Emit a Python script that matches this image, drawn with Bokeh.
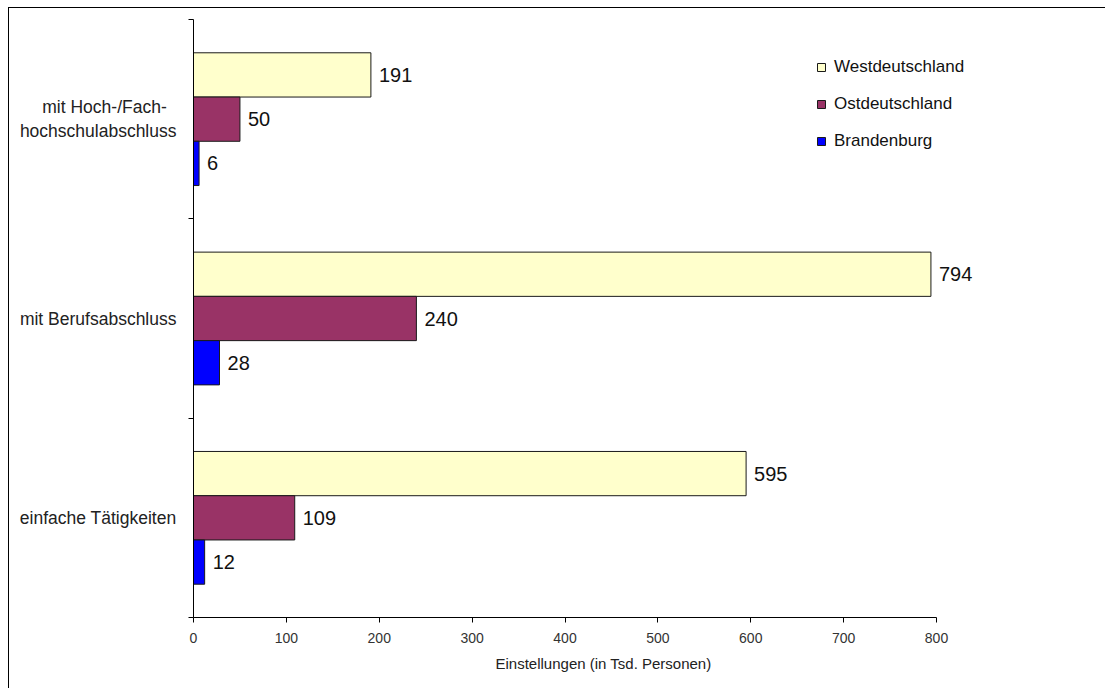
from bokeh.plotting import figure
from bokeh.models import Range1d, FixedTicker, Legend, LegendItem, ColumnDataSource, Title
from bokeh.embed import file_html
from bokeh.resources import INLINE
from bokeh.core.properties import value

# ---- data ----
categories = ["mit Hoch-/Fach-\u00a0\u00a0\nhochschulabschluss", "mit Berufsabschluss", "einfache Tätigkeiten"]
series = ["Westdeutschland", "Ostdeutschland", "Brandenburg"]
west = [191, 794, 595]
ost = [50, 240, 109]
brandenburg = [6, 28, 12]
colors = ["#FFFFCC", "#993366", "#0000FF"]
x_ticks = [0, 100, 200, 300, 400, 500, 600, 700, 800]
x_max = 800
x_title = "Einstellungen (in Tsd. Personen)"

FONT = "Liberation Sans"
n = len(categories)
centers = [n - i - 0.5 for i in range(n)]
bar_h = 0.222

# frame is wider than the value axis so the legend/labels on the right are not clipped
axis_px = 743
frame_w = 896
x_end = x_max * frame_w / axis_px

p = figure(width=1096, height=680, output_backend="svg", toolbar_location=None,
           x_range=Range1d(0, x_end), y_range=Range1d(0, n),
           frame_width=frame_w, frame_height=598,
           min_border_left=184, min_border_right=16, min_border_top=11, min_border_bottom=71)
p.styles = {"margin-left": "8px", "margin-top": "7px",
            "border-top": "1px solid #000000", "border-left": "1px solid #000000"}
p.grid.visible = False
p.outline_line_color = None
p.background_fill_color = "white"
p.border_fill_color = "white"

legend_items = []
for j, (name, vals) in enumerate(zip(series, [west, ost, brandenburg])):
    ys = [c + (1 - j) * bar_h for c in centers]
    src = ColumnDataSource(dict(y=ys, v=vals, t=[str(v) for v in vals]))
    r = p.hbar(y="y", right="v", left=0, height=bar_h, source=src,
               fill_color=colors[j], line_color="#1a1a1a", line_width=1)
    legend_items.append(LegendItem(label=name, renderers=[r]))
    p.text(x="v", y="y", text="t", source=src, x_offset=8, text_baseline="middle",
           text_align="left", text_font=value(FONT), text_font_size="20px", text_color="#111111")

legend = Legend(items=legend_items, location=(623, 466), orientation="vertical",
                border_line_color=None, background_fill_alpha=0, padding=0, margin=0,
                glyph_width=10, glyph_height=10, label_standoff=8, spacing=17, label_height=20,
                label_text_font=FONT, label_text_font_size="17px", label_text_color="#111111")
p.add_layout(legend, "center")

# y axis
ya = p.yaxis[0]
ya.ticker = FixedTicker(ticks=centers, minor_ticks=list(range(n + 1)))
ya.major_label_overrides = {c: lab for c, lab in zip(centers, categories)}
ya.major_tick_out = 0
ya.major_tick_in = 0
ya.minor_tick_out = 5
ya.minor_tick_in = 0
ya.major_label_standoff = 12
ya.major_label_text_font = FONT
ya.major_label_text_font_size = "17.5px"
ya.major_label_text_color = "#222222"
ya.axis_line_color = "black"
ya.minor_tick_line_color = "black"

# x axis
xa = p.xaxis[0]
xa.bounds = (0, x_max)
xa.ticker = FixedTicker(ticks=x_ticks)
xa.minor_tick_line_color = None
xa.major_tick_out = 5
xa.major_tick_in = 0
xa.major_label_standoff = 10
xa.major_label_text_font = FONT
xa.major_label_text_font_size = "14px"
xa.major_label_text_color = "#333333"
xa.axis_line_color = "black"
xa.major_tick_line_color = "black"

p.add_layout(Title(text=x_title, align="left", offset=302, standoff=14, text_font=FONT,
                   text_font_size="15px", text_font_style="normal", text_color="#222222"), "below")

open("out.html", "w").write(file_html(p, INLINE))
